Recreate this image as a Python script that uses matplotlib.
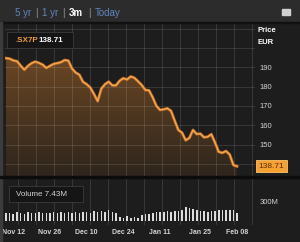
import numpy as np
import matplotlib
matplotlib.use("Agg")
import matplotlib.pyplot as plt
from matplotlib.patches import Rectangle
from matplotlib.colors import LinearSegmentedColormap

plt.rcParams["font.family"] = ["Liberation Sans", "DejaVu Sans"]

# --- data (one value per trading day) ---
prices = [194.7, 194.4, 193.5, 193.1, 190.8, 188.7, 190.7, 192.1, 192.9, 192.2,
          191.3, 189.6, 190.7, 191.7, 192.1, 192.6, 193.7, 193.4, 189.3, 187.2,
          186.1, 182.4, 181.2, 179.4, 176.1, 172.4, 178.9, 181.2, 182.5, 180.6,
          180.6, 183.0, 184.3, 183.6, 185.2, 184.5, 182.7, 180.8, 178.2, 178.0,
          174.4, 170.0, 167.9, 168.2, 168.7, 167.4, 162.3, 157.5, 156.1, 152.2,
          153.4, 157.5, 155.4, 155.6, 153.7, 154.0, 155.3, 151.0, 146.2, 145.7,
          146.6, 144.8, 139.4, 138.71]
volumes = [115, 125, 110, 130, 120, 110, 130, 125, 118, 135, 120,
           128, 115, 132, 120, 140, 118, 130, 125, 145, 122,
           135, 140, 128, 150, 138, 155, 130, 170, 140, 120,
           60, 45, 70, 40, 55, 50,
           95, 110, 105, 125, 130, 140, 135, 150, 145, 160, 150, 175, 215, 200,
           180, 165, 150, 155, 145, 160, 150, 165, 170, 175, 165, 170, 120]
date_labels = ["Nov 12", "Nov 26", "Dec 10", "Dec 24", "Jan 11", "Jan 25", "Feb 08"]
date_idx = [2, 12, 22, 32, 42, 53, 63]
price_ticks = [140, 150, 160, 170, 180, 190, 200, 210]
price_labels = ["", "150", "160", "170", "180", "190", "", ""]
last_price = 138.71

W, H = 300, 242
def rect(x0, y0, x1, y1):
    return [x0 / W, 1 - y1 / H, (x1 - x0) / W, (y1 - y0) / H]

BG = "#1d1d1d"
GRID = (1, 1, 1, 0.14)
TXT = "#d4d4d4"

fig = plt.figure(figsize=(3.0, 2.42), dpi=100, facecolor=BG)

x = np.arange(len(prices))
xlim = (-0.27, 67.9)
ylim = (133.7, 212.9)
week_lines = np.arange(3.27, 68, 4.91)   # weekly vertical grid

# top bar
fig.add_artist(Rectangle((0, 1 - 22 / H), 1, 22 / H, transform=fig.transFigure,
                         color="#2c2c2c", zorder=0))
fig.add_artist(Rectangle((0, 1 - 23 / H), 1, 1.2 / H, transform=fig.transFigure,
                         color="#111111", zorder=1))
fig.add_artist(Rectangle((0, 0), 2.0 / W, 1 - 22 / H, transform=fig.transFigure,
                         color="#3c3c3c", zorder=1))
blue = "#5f86c0"
for s, px, col, wt in [("5 yr", 15, blue, "normal"), ("|", 35, "#9a9a9a", "normal"),
                       ("1 yr", 41.5, blue, "normal"), ("|", 62.5, "#9a9a9a", "normal"),
                       ("3m", 69, "white", "bold"), ("|", 88.5, "#9a9a9a", "normal"),
                       ("Today", 95, blue, "normal")]:
    fig.text(px / W, 1 - 13.5 / H, s, color=col, fontsize=7, fontweight=wt,
             ha="left", va="center")
fig.add_artist(Rectangle((282 / W, 1 - 15 / H), 8 / W, 6 / H,
                         transform=fig.transFigure, color="#d0d0d0", zorder=2))

# --- price panel ---
ax = fig.add_axes(rect(5, 23, 255, 176))
ax.set_facecolor(BG)

cmap = LinearSegmentedColormap.from_list("fill", ["#2e251c", "#6a4624"])
grad = np.linspace(0, 1, 256).reshape(-1, 1)
im = ax.imshow(grad, extent=[xlim[0], xlim[1], ylim[0], max(prices)], origin="lower",
               aspect="auto", cmap=cmap, zorder=1)
poly = ax.fill_between(x, prices, ylim[0], color="none")
im.set_clip_path(poly.get_paths()[0], transform=ax.transData)

for v in week_lines:
    ax.axvline(v, color=GRID, lw=0.6, zorder=2)
for t in price_ticks:
    ax.axhline(t, color=GRID, lw=0.6, zorder=2)

ax.plot(x, prices, color="#b8692a", lw=2.1, zorder=3, solid_joinstyle="round")
ax.plot(x, prices, color="#f5a84e", lw=1.0, zorder=4, solid_joinstyle="round")
ax.set_xlim(*xlim)
ax.set_ylim(*ylim)

ax.yaxis.tick_right()
ax.set_yticks(price_ticks)
ax.set_yticklabels(price_labels)
ax.tick_params(axis="y", length=0, pad=3, labelsize=5.5, labelcolor=TXT)
ax.set_xticks([])
for sp in ax.spines.values():
    sp.set_visible(False)

ax.text(1.066, last_price, f"{last_price:.2f}", transform=ax.get_yaxis_transform(),
        ha="center", va="center", fontsize=6, color="#5a2c05", clip_on=False,
        bbox=dict(boxstyle="square,pad=0.3", fc="#f6a232", ec="#ffc46a", lw=0.6))

# legend box of the price panel
fig.add_artist(Rectangle((6.7 / W, 1 - 48 / H), 66.3 / W, 16.3 / H,
                         transform=fig.transFigure, fc="#151515", ec="#3b3b3b", lw=0.6, zorder=5))
fig.text(15 / W, 1 - 40 / H, ".SX7P", color="#f0a040", fontsize=5.8, fontweight="bold",
         ha="left", va="center", zorder=6)
fig.text(38 / W, 1 - 40 / H, f"{last_price:.2f}", color="white", fontsize=5.8,
         fontweight="bold", ha="left", va="center", zorder=6)
fig.text(257 / W, 1 - 30 / H, "Price", color="white", fontsize=5.5, fontweight="bold",
         ha="left", va="center")
fig.text(258 / W, 1 - 42.5 / H, "EUR", color="white", fontsize=5.5, fontweight="bold",
         ha="left", va="center")

# separator
fig.add_artist(Rectangle((0, 1 - 178 / H), 1, 2 / H, transform=fig.transFigure,
                         color="#0c0c0c", zorder=1))

# --- volume panel ---
axv = fig.add_axes(rect(5, 178, 255, 225))
axv.set_facecolor(BG)
for v in week_lines:
    axv.axvline(v, color=GRID, lw=0.6, zorder=1)
axv.bar(x, volumes, width=0.45, color="#dcdcdc", zorder=3)
axv.set_xlim(*xlim)
axv.set_ylim(-68, 674)
axv.yaxis.tick_right()
axv.set_yticks([300])
axv.set_yticklabels(["300M"])
axv.tick_params(axis="y", length=0, pad=3, labelsize=5.5, labelcolor=TXT)
axv.set_xticks(date_idx)
axv.set_xticklabels(date_labels)
axv.tick_params(axis="x", length=0, pad=3, labelsize=5, labelcolor=TXT)
for lab in axv.get_xticklabels():
    lab.set_fontweight("bold")
for sp in axv.spines.values():
    sp.set_visible(False)

fig.add_artist(Rectangle((9.3 / W, 1 - 201.7 / H), 73.7 / W, 15.7 / H,
                         transform=fig.transFigure, fc="#151515", ec="#3b3b3b", lw=0.6, zorder=5))
fig.text(16 / W, 1 - 194 / H, "Volume 7.43M", color=TXT, fontsize=5.8,
         ha="left", va="center", zorder=6)

fig.savefig("out.png", dpi=100, facecolor=BG)
